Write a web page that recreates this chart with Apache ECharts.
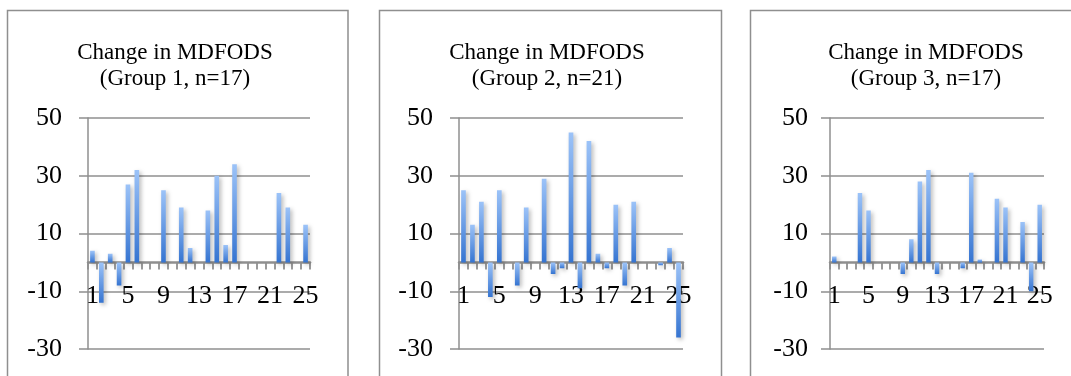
<!DOCTYPE html>
<html>
<head>
<meta charset="utf-8">
<script src="https://cdn.jsdelivr.net/npm/echarts@6/dist/echarts.min.js"></script>
<style>
  html, body { margin: 0; padding: 0; background: #ffffff; }
  #chart { width: 1071px; height: 376px; }
</style>
</head>
<body>
<div id="chart"></div>
<script>
// Subject numbers along the x axis
const categories = ['1','2','3','4','5','6','7','8','9','10','11','12','13',
                    '14','15','16','17','18','19','20','21','22','23','24','25'];

// Change in MDFODS per subject, one array per group
const group1 = [4, -14, 3, -8, 27, 32, 0, 0, 25, 0, 19, 5, 0, 18, 30, 6, 34, 0, 0, 0, 0, 24, 19, 0, 13];
const group2 = [25, 13, 21, -12, 25, 0, -8, 19, 0, 29, -4, -2, 45, -9, 42, 3, -2, 20, -8, 21, 0, 0, -1, 5, -26];
const group3 = [2, 0, 0, 24, 18, 0, 0, 0, -4, 8, 28, 32, -4, 0, 0, -2, 31, 1, 0, 22, 19, 0, 14, -10, 20];

const panelTitles = [
  'Change in MDFODS\n(Group 1, n=17)',
  'Change in MDFODS\n(Group 2, n=21)',
  'Change in MDFODS\n(Group 3, n=17)'
];

// Value-axis tick labels
const yTicks = [-30, -10, 10, 30, 50];

const groups = [group1, group2, group3];

// Layout of the three panels (frame, plot area, title centre, label gap)
const panels = [
  { frame: [7.5, 10.5, 340.5], grid: [88, 118, 222, 231], titleX: 175, yMargin: 26 },
  { frame: [379.5, 10.5, 342], grid: [459, 118, 224, 231], titleX: 547, yMargin: 26 },
  { frame: [750.5, 10.5, 340], grid: [830, 118, 214, 231], titleX: 926, yMargin: 22 }
];

const serif = '"Liberation Serif", "DejaVu Serif", serif';
const gray = '#8f8f8f';

const barFill = new echarts.graphic.LinearGradient(0, 0, 0, 1, [
  { offset: 0, color: '#9cc3f8' },
  { offset: 1, color: '#3574d1' }
]);

const option = {
  backgroundColor: '#ffffff',
  animation: false,
  title: panels.map((p, i) => ({
    text: panelTitles[i],
    left: p.titleX,
    top: 40,
    padding: 0,
    textAlign: 'center',
    textStyle: {
      fontFamily: serif,
      fontSize: 23,
      fontWeight: 'normal',
      color: '#000000',
      lineHeight: 26
    }
  })),
  graphic: panels.map(p => ({
    type: 'rect',
    z: -10,
    shape: { x: p.frame[0], y: p.frame[1], width: p.frame[2], height: 420 },
    style: { fill: 'none', stroke: gray, lineWidth: 1.5 }
  })),
  grid: panels.map(p => ({
    left: p.grid[0], top: p.grid[1], width: p.grid[2], height: p.grid[3],
    containLabel: false,
    outerBoundsMode: 'none'
  })),
  xAxis: panels.map((p, i) => ({
    type: 'category',
    gridIndex: i,
    data: categories,
    boundaryGap: true,
    offset: 0,
    axisLine: { show: true, onZero: false, lineStyle: { color: gray, width: 2.5 } },
    axisTick: { show: true, interval: 0, length: 7, lineStyle: { color: gray, width: 1.8 } },
    axisLabel: {
      interval: 3,
      margin: 21,
      fontFamily: serif,
      fontSize: 26,
      color: '#000000'
    },
    splitLine: { show: false }
  })),
  yAxis: panels.map((p, i) => ({
    type: 'value',
    gridIndex: i,
    min: yTicks[0],
    max: yTicks[yTicks.length - 1],
    interval: yTicks[1] - yTicks[0],
    axisLine: { show: true, lineStyle: { color: gray, width: 1.5 } },
    axisTick: { show: true, length: 9, lineStyle: { color: gray, width: 1.5 } },
    axisLabel: {
      margin: p.yMargin,
      fontFamily: serif,
      fontSize: 26,
      color: '#000000'
    },
    splitLine: { show: true, lineStyle: { color: gray, width: 1.5 } }
  })),
  series: groups.map((g, i) => ({
    type: 'bar',
    xAxisIndex: i,
    yAxisIndex: i,
    data: g,
    barWidth: '52%',
    itemStyle: {
      color: barFill,
      shadowColor: 'rgba(0, 0, 0, 0.28)',
      shadowBlur: 4,
      shadowOffsetX: 2,
      shadowOffsetY: 2
    }
  }))
};

const chart = echarts.init(document.getElementById('chart'), null, { renderer: 'canvas' });
chart.setOption(option);

// Lift each category axis (line, ticks and labels together) up to the y = 0 line
chart.setOption({
  xAxis: groups.map((g, i) => {
    const zeroY = chart.convertToPixel({ yAxisIndex: i }, 0);
    const bottomY = chart.convertToPixel({ yAxisIndex: i }, yTicks[0]);
    return { offset: zeroY - bottomY };
  })
});
</script>
</body>
</html>
